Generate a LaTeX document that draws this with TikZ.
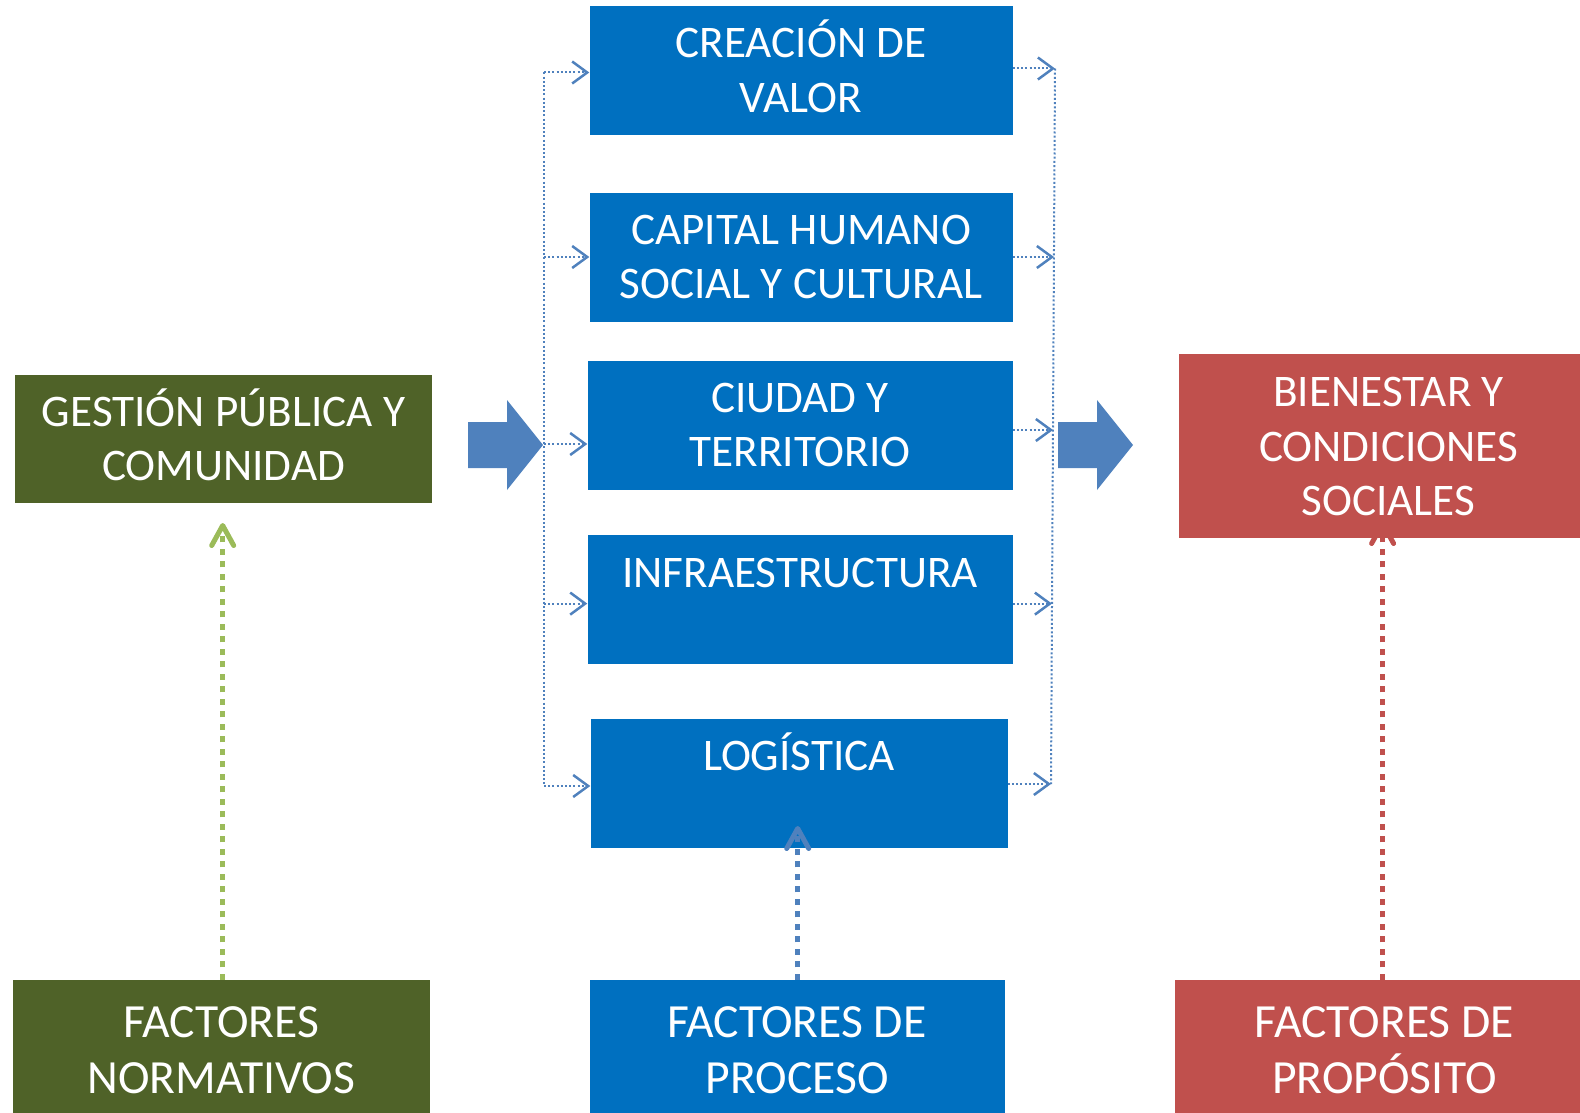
\documentclass[tikz,border=0pt]{standalone}
\usepackage{fontspec}
\setmainfont{Carlito}
\usetikzlibrary{arrows.meta}
\definecolor{boxblue}{HTML}{0070C0}
\definecolor{boxgreen}{HTML}{4F6228}
\definecolor{boxred}{HTML}{C0504D}
\definecolor{arrblue}{HTML}{4F81BD}
\definecolor{arrgreen}{HTML}{9BBB59}
\newcommand\lnstrut{\rule[-12.5pt]{0pt}{54.4pt}}
\newcommand\bigstrut{\rule[-13pt]{0pt}{56.6pt}}
\begin{document}
\begin{tikzpicture}[x=1pt,y=-1pt,
  box/.style={rectangle, inner sep=0pt, text=white, align=center,
    font=\fontsize{45.2}{54.4}\selectfont},
  bluebox/.style={box, fill=boxblue},
  greenbox/.style={box, fill=boxgreen},
  redbox/.style={box, fill=boxred},
  factorbox/.style={minimum height=140pt, font=\fontsize{47.6}{56.6}\selectfont},
  bus/.style={arrblue, line width=2pt, dash pattern=on 2pt off 2.2pt},
  tap/.style={bus, -{Straight Barb[length=15pt,width=22pt,line width=2.5pt]}},
  factorarrow/.style={line width=5.5pt, dash pattern=on 6pt off 6.5pt,
    -{Straight Barb[length=20pt,width=22pt,line width=5pt,round]}},
  bigarrow/.style={fill=arrblue}
]
\useasboundingbox (0,0) rectangle (1580,1113);

% red arrow (behind the box)
\node[redbox, factorbox, minimum width=419pt] (prop) at (1384.5,1050)
  {\bigstrut FACTORES DE\\\bigstrut PROPÓSITO};
\coordinate (rtip) at (1382.6,521);
\draw[factorarrow, boxred] (prop.north -| rtip) -- (rtip);

% boxes
\node[bluebox, minimum width=423pt, minimum height=129pt] (b1) at (801,70.5)
  {\lnstrut CREACIÓN DE\\\lnstrut VALOR};
\node[bluebox, minimum width=423pt, minimum height=129pt] (b2) at (801,257)
  {\lnstrut CAPITAL HUMANO\\\lnstrut SOCIAL Y CULTURAL};
\node[bluebox, minimum width=425pt, minimum height=129pt] (b3) at (800,425)
  {\lnstrut CIUDAD Y\\\lnstrut TERRITORIO};
\node[bluebox, minimum width=425pt, minimum height=129pt] (b4) at (800,599.5)
  {\lnstrut INFRAESTRUCTURA\\\lnstrut};
\node[bluebox, minimum width=417pt, minimum height=129pt] (b5) at (799,783)
  {\lnstrut LOGÍSTICA\\\lnstrut};
\node[bluebox, factorbox, minimum width=415pt] (proc) at (797,1050)
  {\bigstrut FACTORES DE\\\bigstrut PROCESO};
\node[greenbox, minimum width=417pt, minimum height=128pt] (gest) at (223.5,439)
  {\lnstrut GESTIÓN PÚBLICA Y\\\lnstrut COMUNIDAD};
\node[greenbox, factorbox, minimum width=417pt] (norm) at (221.5,1050)
  {\bigstrut FACTORES\\\bigstrut NORMATIVOS};
\node[redbox, minimum width=419pt, minimum height=184pt] (bien) at (1388.5,446.4)
  {\lnstrut BIENESTAR Y\\\lnstrut CONDICIONES\\\lnstrut SOCIALES};

% block arrows
\fill[bigarrow] (468,422) -- (507,422) -- (507,400) -- (543,445) -- (507,490)
  -- (507,468) -- (468,468) -- cycle;
\fill[bigarrow] (1058,422) -- (1097,422) -- (1097,400) -- (1133,445) -- (1097,490)
  -- (1097,468) -- (1058,468) -- cycle;

% left bus
\coordinate (L1) at (544,72.5);
\coordinate (L2) at (544,257);
\coordinate (L3) at (544,444);
\coordinate (L4) at (544,603.6);
\coordinate (L5) at (544,786);
\draw[bus] (L1) -- (L5);
\draw[tap] (L1) -- (b1.west |- L1);
\draw[tap] (L2) -- (b2.west |- L2);
\draw[tap] (L3) -- (b3.west |- L3);
\draw[tap] (L4) -- (b4.west |- L4);
\draw[tap] (L5) -- (b5.west |- L5);

% right bus
\coordinate (R1) at (1055,68.5);
\coordinate (R2) at (1054,257);
\coordinate (R3) at (1053,430);
\coordinate (R4) at (1052,603.6);
\coordinate (R5) at (1051,784);
\draw[bus] (R1) -- (R5);
\draw[tap] (b1.east |- R1) -- (R1);
\draw[tap] (b2.east |- R2) -- (R2);
\draw[tap] (b3.east |- R3) -- (R3);
\draw[tap] (b4.east |- R4) -- (R4);
\draw[tap] (b5.east |- R5) -- (R5);

% factor arrows
\coordinate (gtip) at (222.7,523);
\draw[factorarrow, arrgreen] (norm.north -| gtip) -- (gtip);
\coordinate (ptip) at (797.7,826);
\draw[factorarrow, arrblue] (proc.north -| ptip) -- (ptip);
\end{tikzpicture}
\end{document}
